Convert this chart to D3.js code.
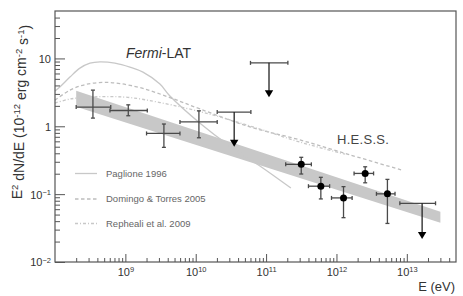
<!DOCTYPE html>
<html>
<head>
<meta charset="utf-8">
<script src="https://cdn.jsdelivr.net/npm/d3@7"></script>
<style>
  body { margin: 0; background: #fff; }
  svg { display: block; font-family: "Liberation Sans", Arial, sans-serif; }
</style>
</head>
<body>
<svg width="463" height="296"></svg>
<script>
// Fermi-LAT points (E in eV, flux in 1e-12 erg cm-2 s-1)
const fermiE    = [3.46e8, 1.1e9, 3.53e9, 1.11e10];
const fermiElo  = [2.0e8, 6.04e8, 2.0e9, 5.97e9];
const fermiEhi  = [6.2e8, 2.05e9, 5.97e9, 2.02e10];
const fermiF    = [1.92, 1.71, 0.785, 1.16];
const fermiFlo  = [1.32, 1.43, 0.489, 0.677];
const fermiFhi  = [3.41, 2.07, 1.08, 1.69];

// H.E.S.S. points
const hessE   = [3.16e11, 6.0e11, 1.26e12, 2.56e12, 5.3e12];
const hessElo = [1.9e11, 4.0e11, 8.5e11, 1.78e12, 3.7e12];
const hessEhi = [4.4e11, 8.0e11, 1.67e12, 3.37e12, 6.8e12];
const hessF   = [0.275, 0.131, 0.088, 0.202, 0.101];
const hessFlo = [0.198, 0.085, 0.045, 0.147, 0.037];
const hessFhi = [0.349, 0.177, 0.129, 0.253, 0.165];

// upper limits
const ulE   = [3.52e10, 1.1e11, 1.65e13];
const ulElo = [2.02e10, 6.0e10, 7.96e12];
const ulEhi = [6.08e10, 2.04e11, 2.56e13];
const ulF   = [1.62, 8.6, 0.0733];
const ulTip = [0.5, 2.67, 0.0218];

// grey band (butterfly)
const bandE  = [2e8, 3e13];
const bandHi = [3.33, 0.0551];
const bandLo = [1.94, 0.0379];

// model curves
const paglioneE = [1e8, 1.18e8, 1.63e8, 2.26e8, 3.14e8, 4.36e8, 7.11e8, 1.16e9, 1.78e9, 3.1e9, 4.3e9, 1.15e10, 3.06e10, 8.17e10, 2.25e11];
const paglioneF = [3.30, 3.82, 5.31, 7.2, 8.53, 8.92, 8.53, 7.45, 6.28, 4.19, 2.79, 1.11, 0.51, 0.26, 0.123];
const domingoE = [1e8, 1.63e8, 2.67e8, 4.81e8, 8.38e8, 1.78e9, 4.3e9, 1.15e10, 5.89e10, 3.02e11, 1.55e12, 8.5e12];
const domingoF = [2.43, 3.41, 4.11, 4.43, 4.26, 3.61, 2.65, 1.80, 0.98, 0.63, 0.38, 0.226];
const repheaE = [1e8, 1.63e8, 3.14e8, 6.04e8, 1.16e9, 3.1e9, 1.59e10, 8.17e10, 3.02e11, 1.32e12];
const repheaF = [2.20, 2.52, 2.69, 2.74, 2.65, 2.24, 1.51, 0.91, 0.585, 0.39];

const legendNames = ["Paglione 1996", "Domingo & Torres 2005", "Repheali et al. 2009"];
const xMajor = [1e9, 1e10, 1e11, 1e12, 1e13];
const yMajor = [0.01, 0.1, 1, 10];

const svg = d3.select("svg");
const margin = { left: 55, right: 456, top: 11, bottom: 262 };
const x = d3.scaleLog().domain([1e8, 5e13]).range([margin.left, margin.right]);
const y = d3.scaleLog().domain([0.01, 50]).range([margin.bottom, margin.top]);

const errCol = "#4a4a4a";

// band
const bandPts = bandE.map((e, i) => [x(e), y(bandHi[i])])
  .concat(bandE.map((e, i) => [x(e), y(bandLo[i])]).reverse());
svg.append("path")
  .attr("d", d3.line()(bandPts) + "Z")
  .attr("fill", "#c8c8c8");

// curves
const line = d3.line().curve(d3.curveCatmullRom.alpha(0.5)).x(d => x(d[0])).y(d => y(d[1]));
const curves = [
  { e: paglioneE, f: paglioneF, dash: null, col: "#c8c8c8" },
  { e: domingoE, f: domingoF, dash: "3.5,2.5", col: "#bdbdbd" },
  { e: repheaE, f: repheaF, dash: "3,2,1,2", col: "#c8c8c8" }
];
curves.forEach(c => {
  svg.append("path")
    .attr("d", line(c.e.map((e, i) => [e, c.f[i]])))
    .attr("fill", "none")
    .attr("stroke", c.col)
    .attr("stroke-width", 1.3)
    .attr("stroke-dasharray", c.dash);
});

// error crosses
function cross(g, e, elo, ehi, f, flo, fhi) {
  const cx = x(e), cy = y(f), c = 2;
  g.append("line").attr("x1", x(elo)).attr("x2", x(ehi)).attr("y1", cy).attr("y2", cy);
  g.append("line").attr("x1", cx).attr("x2", cx).attr("y1", y(flo)).attr("y2", y(fhi));
  g.append("line").attr("x1", x(elo)).attr("x2", x(elo)).attr("y1", cy - c).attr("y2", cy + c);
  g.append("line").attr("x1", x(ehi)).attr("x2", x(ehi)).attr("y1", cy - c).attr("y2", cy + c);
  g.append("line").attr("x1", cx - c).attr("x2", cx + c).attr("y1", y(flo)).attr("y2", y(flo));
  g.append("line").attr("x1", cx - c).attr("x2", cx + c).attr("y1", y(fhi)).attr("y2", y(fhi));
}
const errG = svg.append("g").attr("stroke", errCol).attr("stroke-width", 1.3);
fermiE.forEach((e, i) => cross(errG, e, fermiElo[i], fermiEhi[i], fermiF[i], fermiFlo[i], fermiFhi[i]));
hessE.forEach((e, i) => cross(errG, e, hessElo[i], hessEhi[i], hessF[i], hessFlo[i], hessFhi[i]));

svg.append("g").selectAll("circle").data(hessE).join("circle")
  .attr("cx", d => x(d))
  .attr("cy", (d, i) => y(hessF[i]))
  .attr("r", 3.5)
  .attr("fill", "#000");

// upper limits
ulE.forEach((e, i) => {
  const cx = x(e), by = y(ulF[i]), ty = y(ulTip[i]);
  errG.append("line").attr("x1", x(ulElo[i])).attr("x2", x(ulEhi[i])).attr("y1", by).attr("y2", by);
  errG.append("line").attr("x1", x(ulElo[i])).attr("x2", x(ulElo[i])).attr("y1", by - 2).attr("y2", by + 2);
  errG.append("line").attr("x1", x(ulEhi[i])).attr("x2", x(ulEhi[i])).attr("y1", by - 2).attr("y2", by + 2);
  errG.append("line").attr("x1", cx).attr("x2", cx).attr("y1", by).attr("y2", ty - 6)
    .attr("stroke", "#222");
  svg.append("path")
    .attr("d", `M${cx - 4.2},${ty - 7}L${cx + 4.2},${ty - 7}L${cx},${ty}Z`)
    .attr("fill", "#000");
});

// frame
svg.append("rect")
  .attr("x", margin.left).attr("y", margin.top)
  .attr("width", margin.right - margin.left).attr("height", margin.bottom - margin.top)
  .attr("fill", "none").attr("stroke", "#555").attr("stroke-width", 1.2);

// axes
function minorTicks(lo, hi, lim) {
  const out = [];
  for (let p = lo; p <= hi; p++)
    for (let k = 2; k <= 9; k++) {
      const v = k * Math.pow(10, p);
      if (v < lim) out.push(v);
    }
  return out;
}
const axCol = "#555";
const xMinor = svg.append("g").attr("transform", `translate(0,${margin.bottom})`)
  .call(d3.axisBottom(x).tickValues(minorTicks(8, 13, 5e13)).tickSize(-4).tickFormat(""));
const xMaj = svg.append("g").attr("transform", `translate(0,${margin.bottom})`)
  .call(d3.axisBottom(x).tickValues(xMajor).tickSize(-8).tickPadding(6));
const yMinor = svg.append("g").attr("transform", `translate(${margin.left},0)`)
  .call(d3.axisLeft(y).tickValues(minorTicks(-2, 1, 50)).tickSize(-5).tickFormat(""));
const yMaj = svg.append("g").attr("transform", `translate(${margin.left},0)`)
  .call(d3.axisLeft(y).tickValues(yMajor).tickSize(-10).tickPadding(4));

[xMinor, xMaj, yMinor, yMaj].forEach(g => {
  g.select(".domain").remove();
  g.selectAll(".tick line").attr("stroke", axCol).attr("stroke-width", 1);
});

function pow10Label(sel) {
  sel.each(function(d) {
    const t = d3.select(this).text("")
      .attr("font-size", 11).attr("fill", "#333")
      .attr("font-family", "Liberation Sans, Arial, sans-serif");
    const p = Math.round(Math.log10(d));
    if (p === 0) { t.text("1"); return; }
    if (p === 1) { t.text("10"); return; }
    t.append("tspan").text("10");
    t.append("tspan").attr("dy", "-0.45em").attr("font-size", 7.5).text(String(p).replace("-", "\u2212"));
  });
}
pow10Label(xMaj.selectAll(".tick text"));
pow10Label(yMaj.selectAll(".tick text"));
yMaj.selectAll(".tick text").attr("dy", "0.35em");

// axis titles
const yl = svg.append("text")
  .attr("transform", "translate(22,112) rotate(-90)")
  .attr("text-anchor", "middle")
  .attr("font-size", 14).attr("fill", "#333");
yl.append("tspan").text("E");
yl.append("tspan").attr("dy", "-0.45em").attr("font-size", 9.5).text("2");
yl.append("tspan").attr("dy", "0.45em").text(" dN/dE (10");
yl.append("tspan").attr("dy", "-0.45em").attr("font-size", 9.5).text("-12");
yl.append("tspan").attr("dy", "0.45em").text(" erg cm");
yl.append("tspan").attr("dy", "-0.45em").attr("font-size", 9.5).text("-2");
yl.append("tspan").attr("dy", "0.45em").text(" s");
yl.append("tspan").attr("dy", "-0.45em").attr("font-size", 9.5).text("-1");
yl.append("tspan").attr("dy", "0.45em").text(")");

svg.append("text")
  .attr("x", 455).attr("y", 291)
  .attr("text-anchor", "end")
  .attr("font-size", 13).attr("fill", "#333")
  .text("E (eV)");

// labels
const fl = svg.append("text").attr("x", 126).attr("y", 57.5)
  .attr("font-size", 14).attr("fill", "#333");
fl.append("tspan").attr("font-style", "italic").text("Fermi");
fl.append("tspan").text("-LAT");

svg.append("text").attr("x", 337).attr("y", 144)
  .attr("font-size", 13).attr("fill", "#444").attr("letter-spacing", 0.3)
  .text("H.E.S.S.");

// legend
const legY = [173.5, 199, 223.5];
legendNames.forEach((name, i) => {
  svg.append("line")
    .attr("x1", 75).attr("x2", 97).attr("y1", legY[i]).attr("y2", legY[i])
    .attr("stroke", curves[i].col).attr("stroke-width", 1.3)
    .attr("stroke-dasharray", curves[i].dash);
  svg.append("text")
    .attr("x", 106).attr("y", legY[i]).attr("dy", "0.35em")
    .attr("font-size", 9.5).attr("fill", "#666")
    .text(name);
});
</script>
</body>
</html>
